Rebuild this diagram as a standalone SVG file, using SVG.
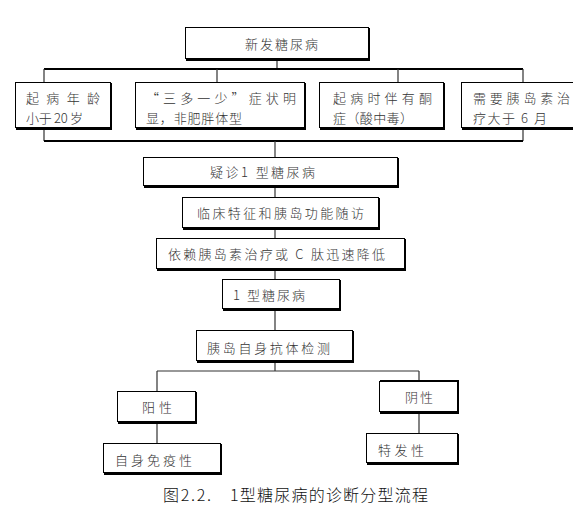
<svg xmlns="http://www.w3.org/2000/svg" width="573" height="507" viewBox="0 0 573 507">
<style>
.box{fill:#fff;stroke:#000;stroke-width:1}
.sh{fill:none;stroke:#000;stroke-width:2}
.t{font-family:"Noto Sans CJK SC","Liberation Sans",sans-serif;font-size:13px;font-weight:300;fill:#333}
.c{fill:none;stroke:#333;stroke-width:1.2}
.cb{fill:none;stroke:#000;stroke-width:2}
.cap{font-family:"Noto Sans CJK SC","Liberation Sans",sans-serif;font-size:16px;font-weight:300;fill:#111}
</style>
<rect width="573" height="507" fill="#fff"/>
<g id="connectors">
<path class="c" d="M277 59V69"/>
<path class="cb" d="M44 69H523"/>
<path class="c" d="M44 69V82M217 69V82M398 69V82M523 69V82"/>
<path class="c" d="M44 128V141M523 128V141"/>
<path class="cb" d="M44 141H523"/>
<path class="c" d="M275 141V157"/>
<path class="c" d="M275 186V197M275 228V238M275 269V279M275 309V330"/>
<path class="c" d="M275 361V371M157 371H419M157 371V391M419 371V381"/>
<path class="c" d="M157 422V443M419 412V433"/>
</g>
<g id="n1"><rect class="box" x="185.5" y="27.5" width="183" height="31"/><path class="sh" d="M369 28V60H186"/><text class="t" x="245" y="49" textLength="73">新发糖尿病</text></g>
<g id="n2"><rect class="box" x="15.5" y="82.5" width="95" height="45"/><path class="sh" d="M111 83V129H16"/><text class="t" x="26" y="103" textLength="74">起病年龄</text><text class="t" x="26" y="123" textLength="57">小于 20 岁</text></g>
<g id="n3"><rect class="box" x="135.5" y="82.5" width="169" height="45"/><path class="sh" d="M305 83V129H136"/><text class="t" x="146" y="103" textLength="150">“三多一少”症状明</text><text class="t" x="146" y="123" textLength="96">显，非肥胖体型</text></g>
<g id="n4"><rect class="box" x="319.5" y="82.5" width="124" height="45"/><path class="sh" d="M444 83V129H320"/><text class="t" x="333" y="103" textLength="99">起病时伴有酮</text><text class="t" x="333" y="123" textLength="80">症（酸中毒）</text></g>
<g id="n5"><rect class="box" x="461.5" y="82.5" width="120" height="45"/><path class="sh" d="M582 129H462"/><text class="t" x="473" y="103" textLength="97">需要胰岛素治</text><text class="t" x="473" y="123" textLength="74">疗大于 6 月</text></g>
<g id="n6"><rect class="box" x="143.5" y="157.5" width="254" height="28"/><path class="sh" d="M398 158V187H144"/><text class="t" x="210" y="177" textLength="105">疑诊1 型糖尿病</text></g>
<g id="n7"><rect class="box" x="182.5" y="197.5" width="196" height="30"/><path class="sh" d="M379 198V229H183"/><text class="t" x="197" y="218" textLength="167">临床特征和胰岛功能随访</text></g>
<g id="n8"><rect class="box" x="156.5" y="238.5" width="248" height="30"/><path class="sh" d="M405 239V270H157"/><text class="t" x="168" y="259" textLength="217">依赖胰岛素治疗或 C 肽迅速降低</text></g>
<g id="n9"><rect class="box" x="222.5" y="279.5" width="117" height="29"/><path class="sh" d="M340 280V310H223"/><text class="t" x="233" y="300" textLength="72">1 型糖尿病</text></g>
<g id="n10"><rect class="box" x="196.5" y="330.5" width="156" height="30"/><path class="sh" d="M353 331V362H197"/><text class="t" x="207" y="353" textLength="123">胰岛自身抗体检测</text></g>
<g id="n11"><rect class="box" x="117.5" y="391.5" width="78" height="30"/><path class="sh" d="M196 392V423H118"/><text class="t" x="142" y="412" textLength="30">阳性</text></g>
<g id="n12"><rect class="box" x="379.5" y="381.5" width="78" height="30"/><path class="sh" d="M380 381H458V413H380"/><text class="t" x="405" y="402" textLength="28">阴性</text></g>
<g id="n13"><rect class="box" x="103.5" y="443.5" width="117" height="29"/><path class="sh" d="M221 444V474H104"/><text class="t" x="115" y="465" textLength="77">自身免疫性</text></g>
<g id="n14"><rect class="box" x="366.5" y="433.5" width="91" height="29"/><path class="sh" d="M458 434V464H367"/><text class="t" x="378" y="455" textLength="46">特发性</text></g>
<text class="cap" x="163" y="501" textLength="48">图2.2.</text>
<text class="cap" x="230" y="501" textLength="198">1型糖尿病的诊断分型流程</text>
</svg>
